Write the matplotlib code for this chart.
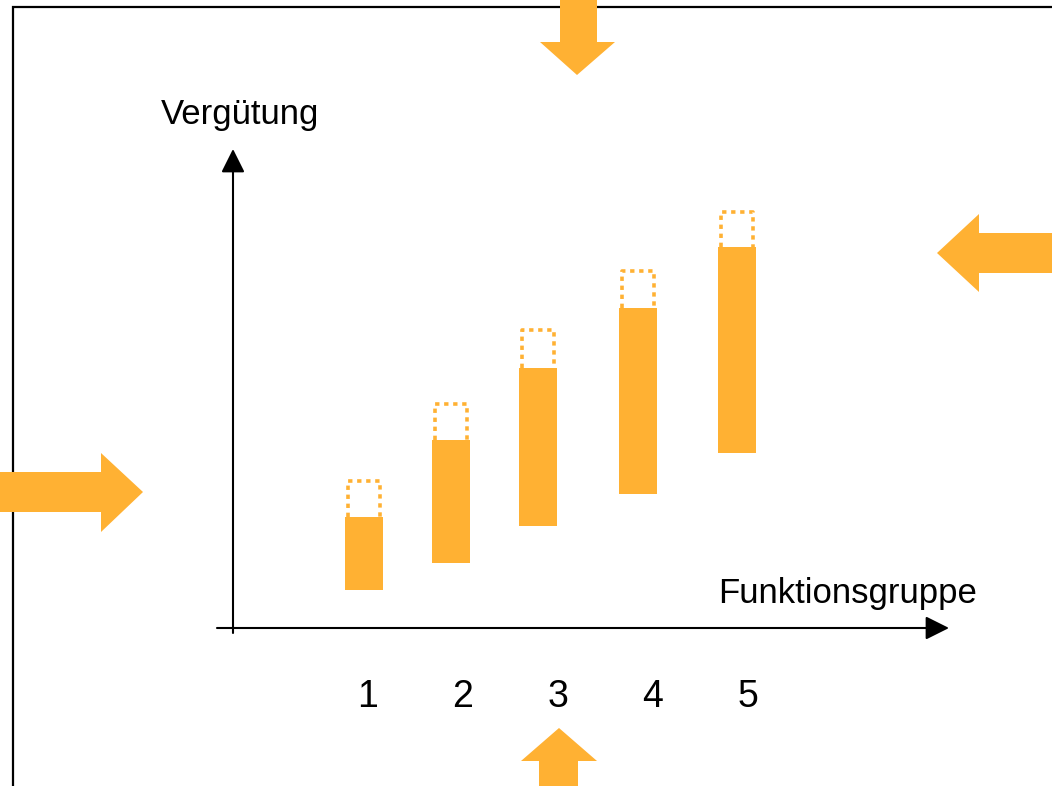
import matplotlib
matplotlib.use('Agg')
import matplotlib.pyplot as plt
from matplotlib.patches import Polygon

# Vergütungsbänder je Funktionsgruppe (willkürliche Einheiten)
groups = ['1', '2', '3', '4', '5']
pay_low = [3.8, 6.5, 10.2, 13.4, 17.5]
pay_high = [11.1, 18.8, 26.0, 32.0, 38.1]
pay_extra = [14.7, 22.4, 29.8, 35.7, 41.6]

# Lage der Balken auf der x-Achse
bar_x = [0.96, 1.87, 2.79, 3.84, 4.88]

ORANGE = '#FFB133'
W, H = 1052, 786

plt.rcParams['font.family'] = ['Liberation Sans', 'DejaVu Sans']

fig = plt.figure(figsize=(W / 100, H / 100), dpi=100)

# Hintergrund-Ebene in Pixelkoordinaten: Rahmen, Pfeile, Beschriftungen
deco = fig.add_axes([0, 0, 1, 1])
deco.set_xlim(0, W)
deco.set_ylim(H, 0)
deco.axis('off')

deco.plot([13, 13, W], [H, 7, 7], color='black', lw=1.6, solid_joinstyle='miter', zorder=1)

big_arrows = [
    [(560, 0), (597, 0), (597, 42), (615, 42), (577, 75), (540, 42), (560, 42)],
    [(W, 233), (979, 233), (979, 214), (937, 253), (979, 292), (979, 273), (W, 273)],
    [(0, 472), (101, 472), (101, 453), (143, 492), (101, 532), (101, 512), (0, 512)],
    [(539, H), (539, 761), (521, 761), (559, 728), (597, 761), (578, 761), (578, H)],
]
for pts in big_arrows:
    deco.add_patch(Polygon(pts, closed=True, facecolor=ORANGE, edgecolor='none', zorder=2))

head = '-|>,head_length=1.44,head_width=0.72'
deco.annotate('', xy=(233, 149), xytext=(233, 633),
              arrowprops=dict(arrowstyle=head, color='black', lw=1.5,
                              shrinkA=0, shrinkB=0, mutation_scale=10))
deco.annotate('', xy=(949, 628), xytext=(217, 628),
              arrowprops=dict(arrowstyle=head, color='black', lw=1.5,
                              shrinkA=0, shrinkB=0, mutation_scale=10))

deco.text(240, 124, 'Vergütung', ha='center', va='baseline', fontsize=25)
deco.text(848, 603, 'Funktionsgruppe', ha='center', va='baseline', fontsize=25)

# Diagramm-Achse
ax = fig.add_axes([233 / W, (H - 628) / H, 716 / W, 479 / H])
ax.set_xlim(-0.421, 7.116)
ax.set_ylim(0, 47.9)
ax.patch.set_alpha(0)
for s in ax.spines.values():
    s.set_visible(False)

heights = [h - l for h, l in zip(pay_high, pay_low)]
ax.bar(bar_x, heights, bottom=pay_low, width=0.4, color=ORANGE, zorder=3)

# gepunktete Aufstockung oberhalb der Bänder
for x, hi, ex in zip(bar_x, pay_high, pay_extra):
    x0, x1 = x - 0.168, x + 0.168
    ax.plot([x0, x0, x1, x1], [hi, ex, ex, hi], color=ORANGE, lw=2.6,
            ls=(0, (1.2, 1.3)), dash_capstyle='butt', zorder=2)

ax.set_xticks(range(1, 6), groups)
ax.tick_params(axis='x', length=0, pad=37, labelsize=27)
ax.set_yticks([])

fig.savefig('out.png', dpi=100)
